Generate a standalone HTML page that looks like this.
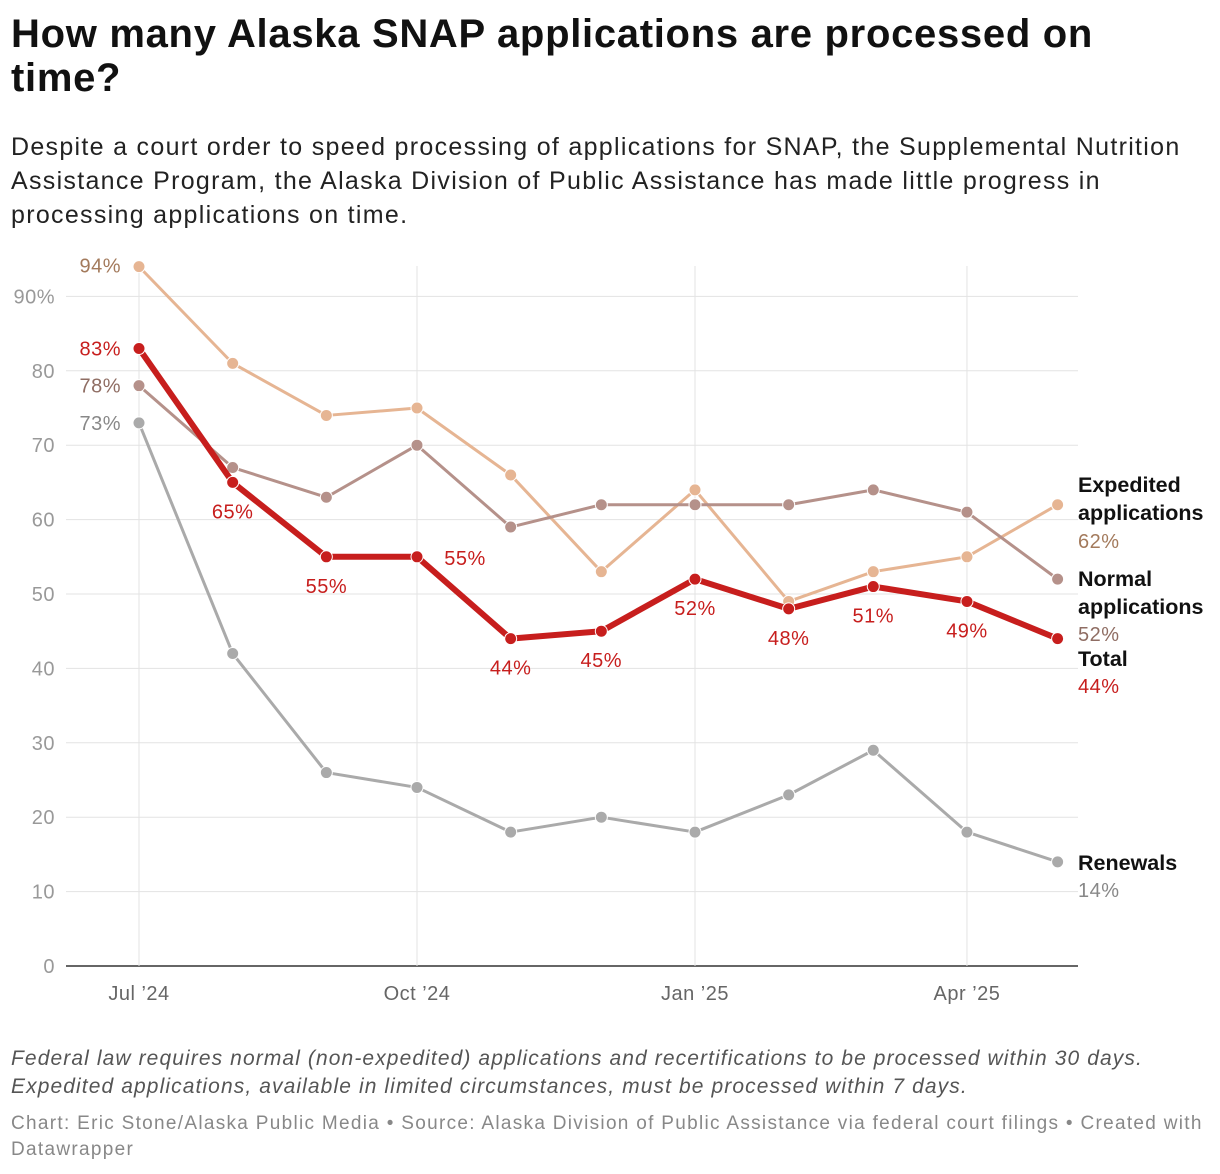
<!DOCTYPE html>
<html><head><meta charset="utf-8"><style>
body{margin:0;width:1220px;height:1174px;background:#fff;font-family:"Liberation Sans",sans-serif;overflow:hidden}
h1{position:absolute;left:11px;top:12px;margin:0;font-size:40px;line-height:44px;font-weight:700;color:#111;letter-spacing:0.7px;white-space:nowrap}
.sub{position:absolute;left:11px;top:130px;font-size:25px;line-height:34px;color:#222;letter-spacing:1.3px;white-space:nowrap}
.note{position:absolute;left:11px;top:1045px;font-size:21px;line-height:28px;color:#555;font-style:italic;letter-spacing:1.1px;white-space:nowrap}
.src{position:absolute;left:11px;top:1111px;font-size:19px;line-height:26px;color:#888;letter-spacing:1.3px;white-space:nowrap}
svg{position:absolute;left:0;top:0}
</style></head><body>
<h1>How many Alaska SNAP applications are processed on<br>time?</h1>
<div class="sub">Despite a court order to speed processing of applications for SNAP, the Supplemental Nutrition<br>Assistance Program, the Alaska Division of Public Assistance has made little progress in<br>processing applications on time.</div>
<svg id="chart" width="1220" height="1174"></svg>
<div class="note">Federal law requires normal (non-expedited) applications and recertifications to be processed within 30 days.<br>Expedited applications, available in limited circumstances, must be processed within 7 days.</div>
<div class="src">Chart: Eric Stone/Alaska Public Media • Source: Alaska Division of Public Assistance via federal court filings • Created with<br>Datawrapper</div>
<script>
const months = [0,1,2,3,4,5,6,7,8,9,10];
const expedited = [94,81,74,75,66,53,64,49,53,55,62];
const normal = [78,67,63,70,59,62,62,62,64,61,52];
const total = [83,65,55,55,44,45,52,48,51,49,44];
const renewals = [73,42,26,24,18,20,18,23,29,18,14];
const yTicks = [0,10,20,30,40,50,60,70,80,90];
const xTickMonths = [0,3,6,9];
const xTickLabels = ["Jul ’24","Oct ’24","Jan ’25","Apr ’25"];
const monthDays = [0,31,62,92,123,153,184,215,243,274,304];

const svg=document.getElementById('chart');
const NS='http://www.w3.org/2000/svg';
const x=m=>139+monthDays[m]*(278/92);
const y=v=>966-v*7.44;
function el(t,a,p){const e=document.createElementNS(NS,t);for(const k in a)e.setAttribute(k,a[k]);(p||svg).appendChild(e);return e;}
function txt(s,a){const e=el('text',Object.assign({'font-family':'Liberation Sans, sans-serif'},a));e.textContent=s;return e;}

yTicks.forEach(v=>{
  const l=el('line',{x1:66,x2:1078,y1:y(v),y2:y(v),stroke:v===0?'#333':'#e3e3e3','stroke-width':v===0?1.5:1});
  
  
  const t=txt(v===90?'90%':String(v),{x:55,y:y(v)+7,'text-anchor':'end','font-size':20,fill:'#999','letter-spacing':0.5});
  
  
});
xTickMonths.forEach((m,i)=>{
  const l=el('line',{x1:x(m),x2:x(m),y1:266,y2:966,stroke:'#e3e3e3'});
  
  
  const t=txt(xTickLabels[i],{x:x(m),y:1000,'text-anchor':'middle','font-size':20,fill:'#666','letter-spacing':0.5});
  
  
});

function series(data,color,w,r,name){
  const p=el('polyline',{points:data.map((v,i)=>x(months[i])+','+y(v)).join(' '),fill:'none',stroke:color,'stroke-width':w,'stroke-linejoin':'round'});
  
  
  data.forEach((v,i)=>{
    const c=el('circle',{cx:x(months[i]),cy:y(v),r:r,fill:color,stroke:'#fff','stroke-width':1});
    
    
  });
}
series(renewals,'#aaaaaa',3,6,'renewals');
series(expedited,'#e6b593',3,6,'expedited');
series(normal,'#b5918a',3,6,'normal');
series(total,'#c71e1d',6,6,'total');

function lab(s,xx,yy,c,anchor,name,bold){
  const t=txt(s,{x:xx,y:yy,'text-anchor':anchor||'middle','font-size':bold?21.5:20,fill:c,'font-weight':bold?'700':'400','letter-spacing':bold?0:0.5});
  
  
}
lab(expedited[0]+'%',x(0)-18,y(expedited[0])+6,'#a37a5c','end','expedited-first-label');
lab(total[0]+'%',x(0)-18,y(total[0])+7,'#c71e1d','end','total-first-label');
lab(normal[0]+'%',x(0)-18,y(normal[0])+7,'#8f6d63','end','normal-first-label');
lab(renewals[0]+'%',x(0)-18,y(renewals[0])+7,'#888','end','renewals-first-label');
for(let i=1;i<total.length-1;i++){
  if(i===3) lab(total[i]+'%',x(i)+48,y(total[i])+8,'#c71e1d','middle','total-value-label');
  else lab(total[i]+'%',x(i),y(total[i])+36,'#c71e1d','middle','total-value-label');
}
const L=1078;
lab('Expedited',L,492,'#111','start','expedited-legend',true);
lab('applications',L,520,'#111','start','expedited-legend',true);
lab(expedited[10]+'%',L,548,'#a37a5c','start','expedited-end-label');
lab('Normal',L,586,'#111','start','normal-legend',true);
lab('applications',L,614,'#111','start','normal-legend',true);
lab(normal[10]+'%',L,641,'#8f6d63','start','normal-end-label');
lab('Total',L,666,'#111','start','total-legend',true);
lab(total[10]+'%',L,693,'#c71e1d','start','total-end-label');
lab('Renewals',L,870,'#111','start','renewals-legend',true);
lab(renewals[10]+'%',L,897,'#888','start','renewals-end-label');
</script>
</body></html>
